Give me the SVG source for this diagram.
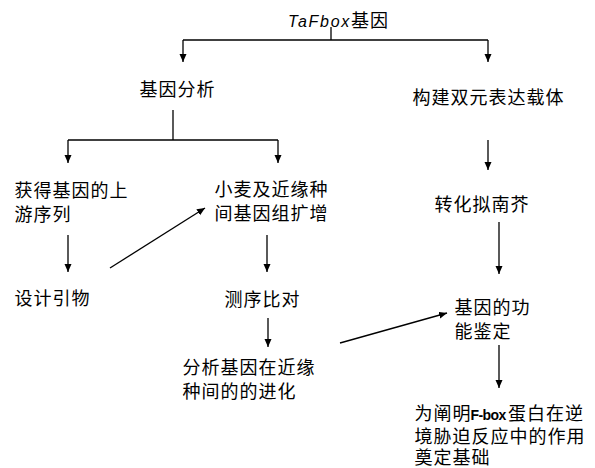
<svg xmlns="http://www.w3.org/2000/svg" width="595" height="468" viewBox="0 0 595 468">
<style>
.t{font-family:"Noto Sans CJK SC","Liberation Sans",sans-serif;font-size:18px;letter-spacing:1px;fill:#000}
.c line{stroke:#000;stroke-width:1.3;fill:none}
.a{marker-end:url(#ah)}
</style>
<defs>
<marker id="ah" markerUnits="userSpaceOnUse" markerWidth="9" markerHeight="8" refX="8" refY="3.5" orient="auto"><path d="M0,0 L8,3.5 L0,7 z" fill="#000"/></marker>
</defs>
<rect width="595" height="468" fill="#fff"/>
<g class="c" id="connectors">
<line x1="331" y1="27" x2="331" y2="40"/>
<line x1="183" y1="40" x2="488" y2="40"/>
<line class="a" x1="183" y1="40" x2="183" y2="62"/>
<line class="a" x1="488" y1="40" x2="488" y2="62"/>
<line x1="173" y1="110" x2="173" y2="140"/>
<line x1="68" y1="140" x2="278" y2="140"/>
<line class="a" x1="68" y1="140" x2="68" y2="163"/>
<line class="a" x1="278" y1="140" x2="278" y2="163"/>
<line class="a" x1="68" y1="235" x2="68" y2="272"/>
<line class="a" x1="110" y1="268" x2="205" y2="208"/>
<line class="a" x1="267" y1="235" x2="267" y2="272"/>
<line class="a" x1="488" y1="140" x2="488" y2="170"/>
<line class="a" x1="499" y1="222" x2="499" y2="274"/>
<line class="a" x1="268" y1="318" x2="268" y2="347"/>
<line class="a" x1="340" y1="343" x2="447" y2="313"/>
<line class="a" x1="499" y1="345" x2="499" y2="388"/>
</g>
<g id="n-top"><text class="t" x="288" y="27"><tspan font-family="Liberation Sans,sans-serif" font-style="italic" font-size="16" letter-spacing="1.7">TaFbox</tspan>基因</text></g>
<g id="n-analysis"><text class="t" x="139.5" y="96">基因分析</text></g>
<g id="n-vector"><text class="t" x="412.5" y="104">构建双元表达载体</text></g>
<g id="n-upstream"><text class="t" x="14.5" y="197">获得基因的上<tspan x="14.5" y="221">游序列</tspan></text></g>
<g id="n-amplify"><text class="t" x="214.5" y="196">小麦及近缘种<tspan x="214.5" y="220">间基因组扩增</tspan></text></g>
<g id="n-transform"><text class="t" x="434.5" y="211">转化拟南芥</text></g>
<g id="n-primer"><text class="t" x="14.5" y="305">设计引物</text></g>
<g id="n-seq"><text class="t" x="224.5" y="306">测序比对</text></g>
<g id="n-function"><text class="t" x="454.5" y="314">基因的功<tspan x="454.5" y="338">能鉴定</tspan></text></g>
<g id="n-evolution"><text class="t" x="182.5" y="374">分析基因在近缘<tspan x="182.5" y="398">种间的的进化</tspan></text></g>
<g id="n-basis"><text class="t" x="414.5" y="420">为阐明<tspan x="470.5" font-family="Liberation Sans,sans-serif" font-weight="bold" font-size="14" letter-spacing="-0.6">F-box</tspan><tspan x="508">蛋白在逆</tspan><tspan x="414.5" y="443">境胁迫反应中的作用</tspan><tspan x="414.5" y="464">奠定基础</tspan></text></g>
</svg>
